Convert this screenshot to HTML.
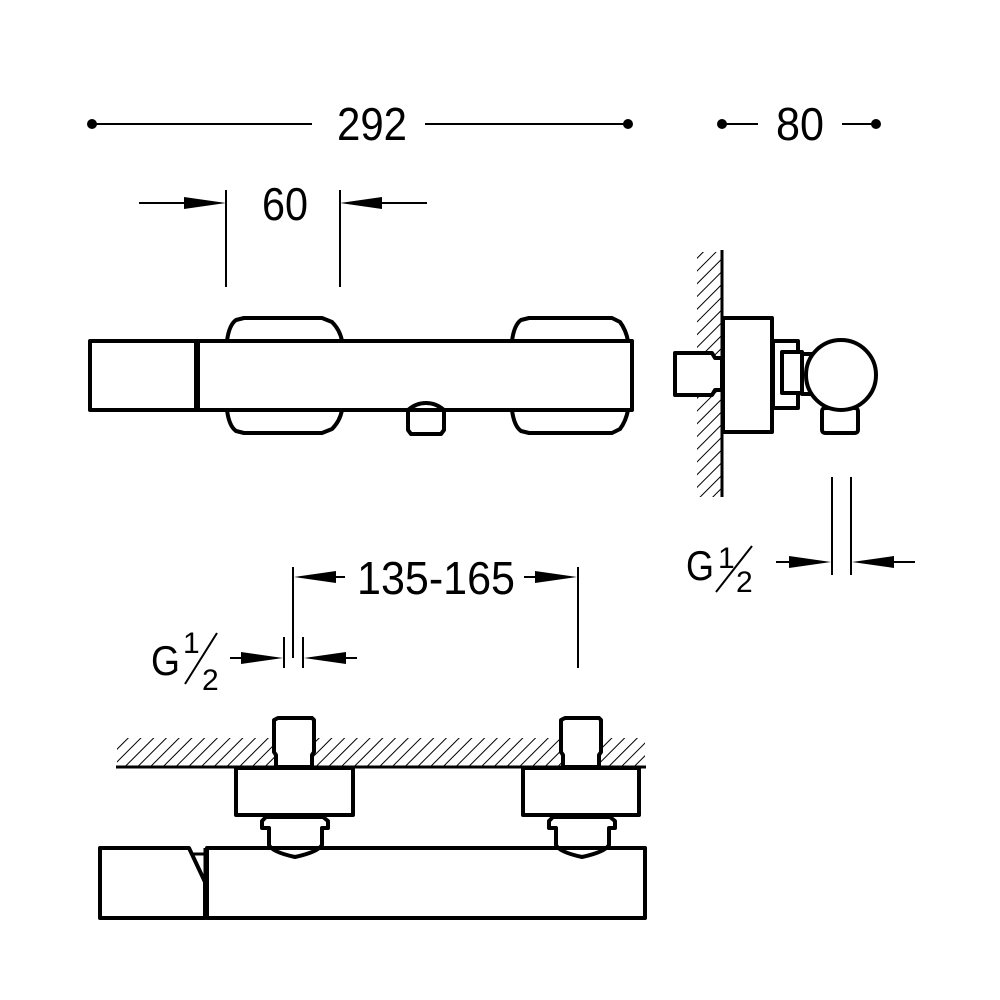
<!DOCTYPE html>
<html><head><style>html,body{margin:0;padding:0;background:#fff}svg{display:block}</style></head>
<body>
<svg width="1000" height="1000" viewBox="0 0 1000 1000" xmlns="http://www.w3.org/2000/svg">
<defs>
<pattern id="h" width="9" height="9" patternUnits="userSpaceOnUse" patternTransform="rotate(45)">
<line x1="0" y1="0" x2="0" y2="9" stroke="#000" stroke-width="2"/>
</pattern>
</defs>
<style>
text{font-family:"Liberation Sans",sans-serif;fill:#000}
.o{fill:#fff;stroke:#000;stroke-width:4;stroke-linejoin:round}
.t{stroke:#000;stroke-width:2;fill:none}
</style>

<!-- 292 -->
<circle cx="92" cy="124" r="5"/><circle cx="628" cy="124" r="5"/>
<line class="t" x1="92" y1="124" x2="312" y2="124"/>
<line class="t" x1="425" y1="124" x2="628" y2="124"/>
<text x="337" y="140" font-size="46" textLength="70" lengthAdjust="spacingAndGlyphs">292</text>
<!-- 80 -->
<circle cx="722" cy="124" r="5"/><circle cx="876" cy="124" r="5"/>
<line class="t" x1="722" y1="124" x2="758" y2="124"/>
<line class="t" x1="842" y1="124" x2="876" y2="124"/>
<text x="776" y="140" font-size="46" textLength="48" lengthAdjust="spacingAndGlyphs">80</text>
<!-- 60 -->
<line class="t" x1="226" y1="190" x2="226" y2="287"/>
<line class="t" x1="340" y1="190" x2="340" y2="287"/>
<line class="t" x1="139" y1="203" x2="200" y2="203"/>
<polygon points="226,203 184,197 184,209"/>
<line class="t" x1="366" y1="203" x2="427" y2="203"/>
<polygon points="340,203 382,197 382,209"/>
<text x="262" y="220" font-size="46" textLength="46" lengthAdjust="spacingAndGlyphs">60</text>

<!-- top view -->
<path class="o" d="M227,341 Q229,325 236,320 L244,318 L322,318 L332,322 Q340,330 342,341 Z"/>
<path class="o" d="M227,410 Q229,426 236,431 L244,433 L322,433 L332,429 Q340,421 342,410 Z"/>
<path class="o" d="M512,341 Q514,325 521,320 L529,318 L612,318 L620,322 Q626,330 628,341 Z"/>
<path class="o" d="M512,410 Q514,426 521,431 L529,433 L612,433 L620,429 Q626,421 628,410 Z"/>
<rect class="o" x="90" y="341" width="106" height="69"/>
<rect class="o" x="197" y="341" width="435" height="69"/>
<line x1="197" y1="341" x2="197" y2="410" stroke="#000" stroke-width="6"/>
<path class="o" d="M408,410 L408,430 L411,434 L441,434 L444,430 L444,410 Q436,403 426,403 Q416,403 408,410 Z"/>
<line x1="408" y1="410" x2="444" y2="410" stroke="#000" stroke-width="4"/>

<!-- side view -->
<rect x="697" y="252" width="25" height="245" fill="url(#h)"/>
<line x1="722" y1="250" x2="722" y2="497" stroke="#000" stroke-width="3"/>
<path class="o" d="M675,353 L712,353 L715,358 L722,358 L722,390 L715,390 L712,395 L675,395 Z"/>
<rect class="o" x="723" y="318" width="49" height="114"/>
<rect class="o" x="773" y="341" width="25" height="67"/>
<rect class="o" x="782" y="352" width="20" height="41"/>
<rect class="o" x="802" y="354" width="14" height="40"/>
<rect class="o" x="822" y="408" width="36" height="25" rx="3"/>
<circle class="o" cx="841" cy="375" r="35"/>
<line class="t" x1="832" y1="477" x2="832" y2="575"/>
<line class="t" x1="851" y1="477" x2="851" y2="575"/>
<line class="t" x1="776" y1="562" x2="810" y2="562"/>
<polygon points="831,562 789,556 789,568"/>
<line class="t" x1="873" y1="562" x2="915" y2="562"/>
<polygon points="852,562 894,556 894,568"/>
<text x="686" y="580" font-size="42" textLength="28" lengthAdjust="spacingAndGlyphs">G</text>
<text x="718" y="568" font-size="30">1</text>
<line class="t" x1="716" y1="592" x2="752" y2="546"/>
<text x="736" y="592" font-size="30">2</text>

<!-- 135-165 -->
<line class="t" x1="293" y1="567" x2="293" y2="658"/>
<line class="t" x1="578" y1="567" x2="578" y2="668"/>
<line class="t" x1="320" y1="577" x2="345" y2="577"/>
<polygon points="294,577 336,571 336,583"/>
<line class="t" x1="524" y1="577" x2="550" y2="577"/>
<polygon points="577,577 535,571 535,583"/>
<text x="357" y="594" font-size="46" textLength="158" lengthAdjust="spacingAndGlyphs">135-165</text>
<!-- G1/2 lower -->
<line class="t" x1="284" y1="637" x2="284" y2="668"/>
<line class="t" x1="303" y1="637" x2="303" y2="668"/>
<line class="t" x1="230" y1="658" x2="250" y2="658"/>
<polygon points="283,658 241,652 241,664"/>
<line class="t" x1="330" y1="658" x2="357" y2="658"/>
<polygon points="304,658 346,652 346,664"/>
<text x="151" y="675" font-size="42" textLength="29" lengthAdjust="spacingAndGlyphs">G</text>
<text x="183" y="653" font-size="30">1</text>
<line class="t" x1="185" y1="684" x2="217" y2="633"/>
<text x="202" y="690" font-size="30">2</text>

<!-- bottom view -->
<rect x="117" y="738" width="528" height="29" fill="url(#h)"/>
<line x1="116" y1="767" x2="646" y2="767" stroke="#000" stroke-width="3"/>
<path class="o" d="M276,767 L276,755 L274,752 L274,720 L278,718 L312,718 L314,720 L314,752 L312,755 L312,767 Z"/>
<path class="o" d="M563,767 L563,755 L561,752 L561,720 L565,718 L599,718 L601,720 L601,752 L599,755 L599,767 Z"/>
<rect class="o" x="236" y="768" width="117" height="47"/>
<rect class="o" x="523" y="768" width="116" height="47"/>
<path class="o" d="M100,848 L189,848 L205,882 L205,918 L100,918 Z"/>
<rect class="o" x="207" y="848" width="438" height="70"/>
<line x1="192" y1="854" x2="207" y2="854" stroke="#000" stroke-width="3"/>
<line x1="206" y1="848" x2="206" y2="918" stroke="#000" stroke-width="5"/>
<path class="o" d="M266,817 L323,817 L328,821 L328,828 L322,828 L322,845 Q318,852 295,857 Q272,852 269,845 L269,828 L262,828 L262,821 Z"/>
<path class="o" d="M553,817 L610,817 L615,821 L615,828 L609,828 L609,845 Q605,852 582,857 Q559,852 556,845 L556,828 L549,828 L549,821 Z"/>
<line x1="266" y1="848" x2="326" y2="848" stroke="#000" stroke-width="4"/>
<line x1="553" y1="848" x2="613" y2="848" stroke="#000" stroke-width="4"/>
</svg>
</body></html>
